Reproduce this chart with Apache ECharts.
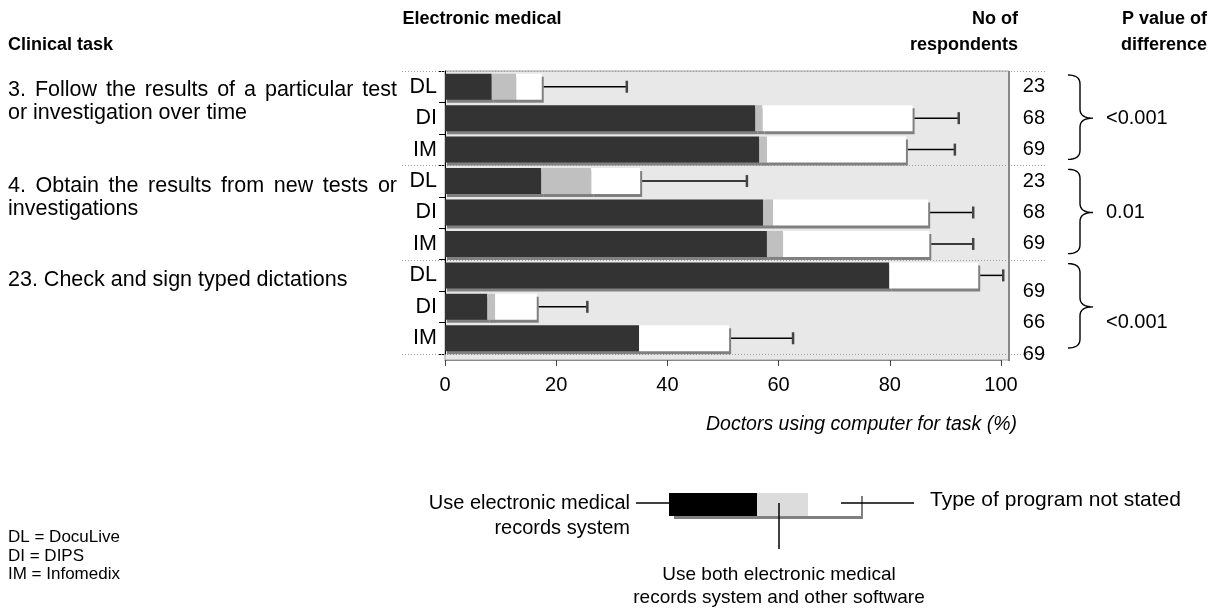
<!DOCTYPE html>
<html>
<head>
<meta charset="utf-8">
<script src="https://cdn.jsdelivr.net/npm/echarts@6/dist/echarts.min.js"></script>
<style>
  html, body { margin: 0; background: #fff; }
  #chart { width: 1223px; height: 613px; }
</style>
</head>
<body>
<div id="chart"></div>
<script>
// rows: task - program
const rowIds = ['t3-DL', 't3-DI', 't3-IM', 't4-DL', 't4-DI', 't4-IM', 't23-DL', 't23-DI', 't23-IM'];
// % of doctors, per row
const emrOnly = [8.4, 55.8, 56.5, 17.3, 57.2, 57.9, 79.9, 7.6, 34.9];
const emrAndOther = [4.4, 1.3, 1.4, 9.0, 1.8, 2.9, 0, 1.4, 0];
const notStated = [4.6, 27.0, 25.0, 8.8, 27.9, 26.3, 16.0, 7.5, 16.2];
const upperCI = [32.7, 92.4, 91.7, 54.3, 95.0, 95.0, 100.4, 25.6, 62.6];
const respondents = [23, 68, 69, 23, 68, 69, 69, 66, 69];
const pValues = ['<0.001', '0.01', '<0.001'];
const taskLines = [
  ['3. Follow the results of a particular test', 'or investigation over time'],
  ['4. Obtain the results from new tests or', 'investigations'],
  ['23. Check and sign typed dictations']
];
const xTicks = [0, 20, 40, 60, 80, 100];

const FONT = '"Liberation Sans", Arial, sans-serif';
const totals = emrOnly.map((v, i) => v + emrAndOther[i] + notStated[i]);

const chart = echarts.init(document.getElementById('chart'));

// word-by-word justified text (the source text is justified)
const measure = document.createElement('canvas').getContext('2d');
function justified(line, x, y, width, justify) {
  const font = '21.5px ' + FONT;
  if (!justify) {
    return [{ type: 'text', style: { text: line, x: x, y: y, font: font, fill: '#000', textVerticalAlign: 'middle' } }];
  }
  measure.font = font;
  const words = line.split(' ');
  const widths = words.map(w => measure.measureText(w).width);
  const gap = (width - widths.reduce((a, b) => a + b, 0)) / (words.length - 1);
  let cx = x;
  return words.map((w, i) => {
    const el = { type: 'text', style: { text: w, x: cx, y: y, font: font, fill: '#000', textVerticalAlign: 'middle' } };
    cx += widths[i] + gap;
    return el;
  });
}

function txt(text, x, y, opts) {
  return {
    type: 'text',
    style: Object.assign({ text: text, x: x, y: y, font: '19px ' + FONT, fill: '#000', textVerticalAlign: 'middle' }, opts || {})
  };
}

const taskY = [90, 186, 280];
let taskEls = [];
taskLines.forEach((lines, t) => {
  lines.forEach((line, j) => {
    taskEls = taskEls.concat(justified(line, 8, taskY[t] + j * 23, 389, j < lines.length - 1));
  });
});

function quad(p0, c, p1) {
  const pts = [];
  for (let k = 0; k <= 8; k++) {
    const t = k / 8;
    pts.push([
      (1 - t) * (1 - t) * p0[0] + 2 * (1 - t) * t * c[0] + t * t * p1[0],
      (1 - t) * (1 - t) * p0[1] + 2 * (1 - t) * t * c[1] + t * t * p1[1]
    ]);
  }
  return pts;
}

const barShadow = { shadowColor: '#808080', shadowOffsetX: 2, shadowOffsetY: 3, shadowBlur: 0 };

const option = {
  animation: false,
  grid: { left: 445, right: 222, top: 71, bottom: 259 },
  xAxis: {
    type: 'value',
    min: xTicks[0],
    max: xTicks[xTicks.length - 1],
    interval: 20,
    offset: 6,
    axisLine: { show: true, lineStyle: { color: '#888', width: 1 } },
    axisTick: { show: true, length: 6, lineStyle: { color: '#444' } },
    axisLabel: { fontSize: 20, fontFamily: FONT, color: '#000', margin: 15 },
    splitLine: { show: false }
  },
  yAxis: {
    type: 'category',
    data: rowIds,
    inverse: true,
    axisLine: { show: true, lineStyle: { color: '#000' } },
    axisTick: { show: true, length: 6, lineStyle: { color: '#000' } },
    axisLabel: { formatter: v => v.split('-')[1], fontSize: 21.5, fontFamily: FONT, color: '#000', margin: 8 }
  },
  graphic: [
    // plot panel
    { type: 'rect', z: -1, shape: { x: 445, y: 71, width: 564, height: 289 }, style: { fill: '#e8e8e8', stroke: '#a0a0a0', lineWidth: 1 } },
    { type: 'line', z: 5, shape: { x1: 1009, y1: 71, x2: 1009, y2: 361 }, style: { stroke: '#888', lineWidth: 2 } },
    // headers
    txt('Electronic medical', 482, 19, { font: 'bold 18px ' + FONT, textAlign: 'center' }),
    txt('Clinical task', 8, 45, { font: 'bold 18px ' + FONT }),
    txt('No of', 1018, 19, { font: 'bold 18px ' + FONT, textAlign: 'right' }),
    txt('respondents', 1018, 45, { font: 'bold 18px ' + FONT, textAlign: 'right' }),
    txt('P value of', 1207, 19, { font: 'bold 18px ' + FONT, textAlign: 'right' }),
    txt('difference', 1207, 45, { font: 'bold 18px ' + FONT, textAlign: 'right' }),
    ...taskEls,
    txt('Doctors using computer for task (%)', 1017, 425, { font: 'italic 19.5px ' + FONT, textAlign: 'right' }),
    // key
    txt('DL = DocuLive', 8, 537, { font: '17px ' + FONT }),
    txt('DI = DIPS', 8, 556, { font: '17px ' + FONT }),
    txt('IM = Infomedix', 8, 574, { font: '17px ' + FONT }),
    // legend sketch
    { type: 'rect', shape: { x: 674, y: 496, width: 189, height: 23 }, style: { fill: '#808080' } },
    { type: 'rect', shape: { x: 669, y: 493, width: 192, height: 23 }, style: { fill: '#fff' } },
    { type: 'rect', shape: { x: 669, y: 493, width: 88, height: 23 }, style: { fill: '#000' } },
    { type: 'rect', shape: { x: 757, y: 493, width: 51, height: 23 }, style: { fill: '#dcdcdc' } },
    { type: 'line', shape: { x1: 636, y1: 503, x2: 669, y2: 503 }, style: { stroke: '#000', lineWidth: 1.5 } },
    { type: 'line', shape: { x1: 841, y1: 503, x2: 914, y2: 503 }, style: { stroke: '#000', lineWidth: 1.5 } },
    { type: 'line', shape: { x1: 779, y1: 503, x2: 779, y2: 549 }, style: { stroke: '#000', lineWidth: 1.5 } },
    txt('Use electronic medical', 630, 503, { textAlign: 'right', font: '20px ' + FONT }),
    txt('records system', 630, 528, { textAlign: 'right', font: '20px ' + FONT }),
    txt('Type of program not stated', 930, 500, { font: '21px ' + FONT }),
    txt('Use both electronic medical', 779, 575, { textAlign: 'center' }),
    txt('records system and other software', 779, 598, { textAlign: 'center' })
  ],
  series: [
    {
      name: 'separators',
      type: 'custom',
      z: 1,
      silent: true,
      data: [[0, 0, -1], [0, 3, -1], [0, 6, -1], [0, 8, 1]],
      encode: { x: 0, y: 1 },
      renderItem: (params, api) => {
        const c = api.coord([0, api.value(1)]);
        const band = api.size([0, 1])[1];
        const y = Math.round(c[1] + api.value(2) * band / 2) + 0.5;
        return {
          type: 'line',
          shape: { x1: 402, y1: y, x2: 1045, y2: y },
          style: { stroke: '#a0a0a0', lineWidth: 1, lineDash: [1, 2] }
        };
      }
    },
    { name: 'Use electronic medical records system', type: 'bar', stack: 'use', barWidth: 26, data: emrOnly, silent: true, itemStyle: Object.assign({ color: '#333333' }, barShadow) },
    { name: 'Use both', type: 'bar', stack: 'use', barWidth: 26, data: emrAndOther, silent: true, itemStyle: Object.assign({ color: '#c0c0c0' }, barShadow) },
    { name: 'Type of program not stated', type: 'bar', stack: 'use', barWidth: 26, data: notStated, silent: true, itemStyle: Object.assign({ color: '#ffffff' }, barShadow) },
    {
      name: 'ci',
      type: 'custom',
      z: 4,
      silent: true,
      data: rowIds.map((id, i) => [totals[i], upperCI[i], i]),
      encode: { x: [0, 1], y: 2 },
      renderItem: (params, api) => {
        const a = api.coord([api.value(0), api.value(2)]);
        const b = api.coord([api.value(1), api.value(2)]);
        return {
          type: 'group',
          children: [
            { type: 'line', shape: { x1: a[0] + 2, y1: a[1], x2: b[0], y2: a[1] }, style: { stroke: '#000', lineWidth: 1.5 } },
            { type: 'line', shape: { x1: b[0], y1: a[1] - 6, x2: b[0], y2: a[1] + 6 }, style: { stroke: '#444', lineWidth: 2.5 } }
          ]
        };
      }
    },
    {
      name: 'respondents',
      type: 'custom',
      silent: true,
      data: rowIds.map((id, i) => [0, i, respondents[i]]),
      encode: { x: 0, y: 1 },
      renderItem: (params, api) => {
        const i = api.value(1);
        const c = api.coord([0, i]);
        const shift = i >= 6 ? 16 : 0;
        return {
          type: 'text',
          style: { text: String(api.value(2)), x: 1045, y: c[1] + shift, font: '20px ' + FONT, fill: '#000', textAlign: 'right', textVerticalAlign: 'middle' }
        };
      }
    },
    {
      name: 'pvalues',
      type: 'custom',
      silent: true,
      data: pValues.map((p, g) => [0, g * 3 + 1, g]),
      encode: { x: 0, y: 1 },
      renderItem: (params, api) => {
        const g = api.value(2);
        const mid = api.coord([0, api.value(1)])[1];
        const band = api.size([0, 1])[1];
        const top = mid - 1.5 * band + 4;
        const bot = mid + 1.5 * band - 6;
        const x0 = 1068, xs = 1080, xt = 1093, r = 9;
        const pts = [].concat(
          quad([x0, top], [xs, top], [xs, top + r]),
          quad([xs, mid - r], [xs, mid], [xt, mid]),
          quad([xt, mid], [xs, mid], [xs, mid + r]),
          quad([xs, bot - r], [xs, bot], [x0, bot])
        );
        const shift = g === 2 ? 16 : 0;
        return {
          type: 'group',
          children: [
            { type: 'polyline', shape: { points: pts }, style: { stroke: '#000', lineWidth: 1.4, fill: null } },
            { type: 'text', style: { text: pValues[g], x: 1106, y: mid + shift, font: '20px ' + FONT, fill: '#000', textVerticalAlign: 'middle' } }
          ]
        };
      }
    }
  ]
};

chart.setOption(option);
</script>
</body>
</html>
